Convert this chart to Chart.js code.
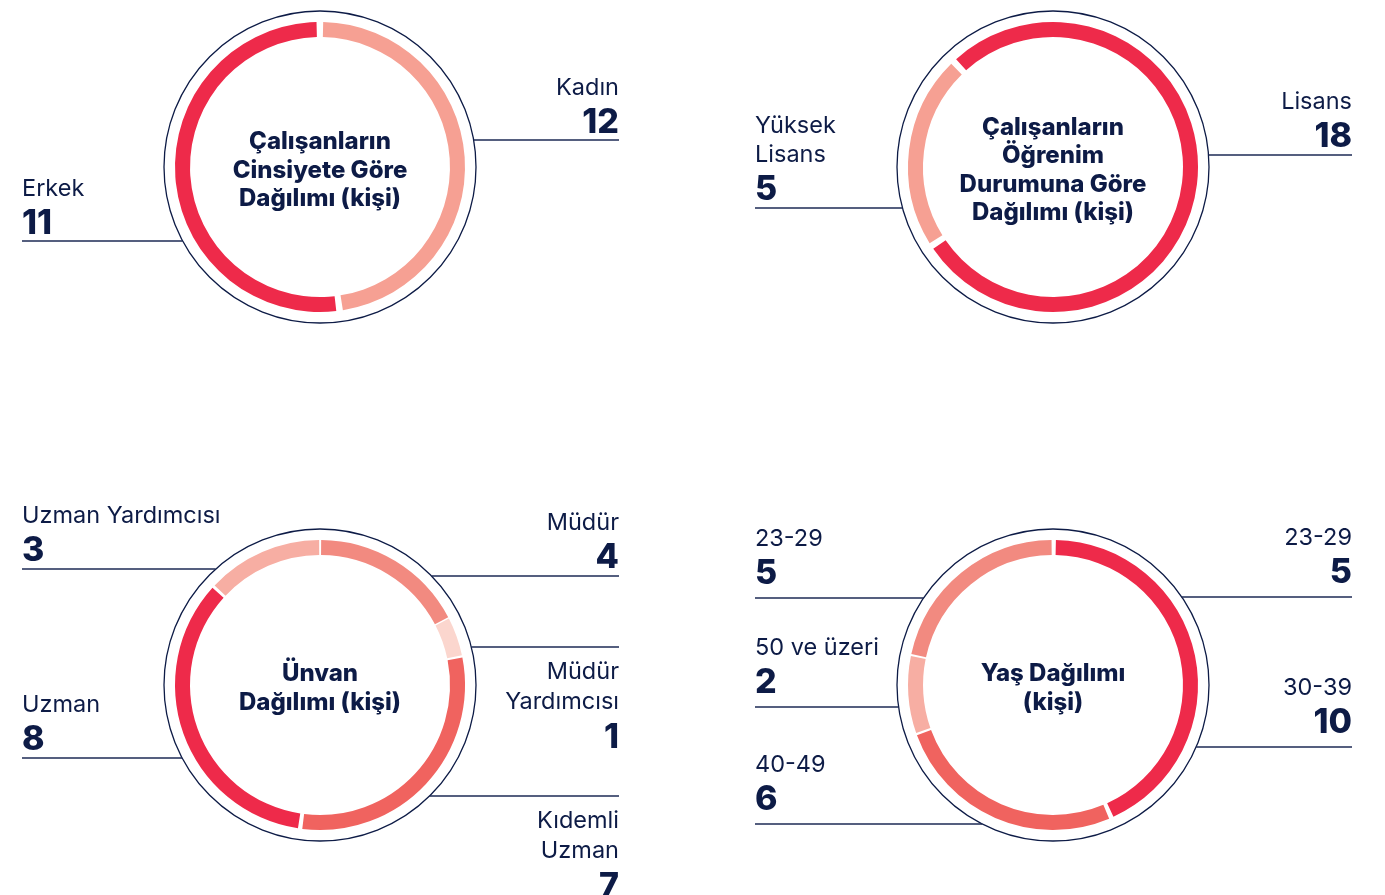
<!DOCTYPE html>
<html lang="tr">
<head>
    <meta charset="UTF-8">
    <title>Çalışan Dağılımları</title>
    <script src="https://cdn.jsdelivr.net/npm/chart.js"></script>
    <style>
        body {
            margin: 0;
            background-color: #ffffff;
        }
        .page {
            position: relative;
            width: 1385px;
            height: 895px;
            overflow: hidden;
        }
        .page canvas {
            position: absolute;
        }
    </style>
</head>
<body>
    <div class="page">
        <canvas id="gender" width="652" height="447" style="left:0;top:0"></canvas>
        <canvas id="education" width="652" height="447" style="left:733px;top:0"></canvas>
        <canvas id="position" width="652" height="447" style="left:0;top:448px"></canvas>
        <canvas id="age" width="652" height="447" style="left:733px;top:448px"></canvas>
    </div>

    <script>
        // Cinsiyet
        const genderLabels = ['Erkek', 'Kadın'];
        const genderValues = [11, 12];
        const genderTitle = ['Çalışanların', 'Cinsiyete Göre', 'Dağılımı (kişi)'];

        // Öğrenim durumu
        const educationLabels = ['Lisans', ['Yüksek', 'Lisans']];
        const educationValues = [18, 5];
        const educationTitle = ['Çalışanların', 'Öğrenim', 'Durumuna Göre', 'Dağılımı (kişi)'];

        // Ünvan
        const positionLabels = ['Müdür', ['Müdür', 'Yardımcısı'], ['Kıdemli', 'Uzman'], 'Uzman', 'Uzman Yardımcısı'];
        const positionValues = [4, 1, 7, 8, 3];
        const positionTitle = ['Ünvan', 'Dağılımı (kişi)'];

        // Yaş
        const ageLabels = ['30-39', '40-49', '50 ve üzeri', '23-29'];
        const ageValues = [10, 6, 2, 5];
        const ageTitle = ['Yaş Dağılımı', '(kişi)'];

        const NAVY = '#0d1b46';
        const RED = '#ee2a4a';
        const CORAL = '#f0635f';
        const SALMON = '#f28a80';
        const PEACH = '#f6a093';
        const LIGHT = '#f7aea3';
        const PALE = '#fbd6ce';

        const LEFT_X = 22;
        const RIGHT_X = 619;

        // label + number + horizontal line that ends on the outer circle
        const calloutPlugin = {
            id: 'callouts',
            afterDraw(chart, args, opts) {
                const ctx = chart.ctx;
                const arc = chart.getDatasetMeta(0).data[0];
                const cx = arc.x, cy = arc.y;
                const ringR = arc.outerRadius + 13;
                const labels = chart.data.labels;
                const values = chart.data.datasets[0].data;
                const gap = opts.gap || 8;

                ctx.save();
                ctx.beginPath();
                ctx.arc(cx, cy, ringR, 0, Math.PI * 2);
                ctx.strokeStyle = NAVY;
                ctx.lineWidth = 1.3;
                ctx.stroke();

                // center title
                ctx.fillStyle = NAVY;
                ctx.font = '800 24px Inter';
                ctx.textAlign = 'center';
                ctx.textBaseline = 'middle';
                const t = opts.title;
                t.forEach((line, k) => {
                    ctx.fillText(line, cx, cy + 3.5 + (k - (t.length - 1) / 2) * 28.5);
                });

                ctx.textBaseline = 'alphabetic';
                opts.items.forEach(c => {
                    const left = c.side === 'left';
                    const xText = left ? LEFT_X : RIGHT_X;
                    const dy = c.y - cy;
                    const dx = Math.sqrt(Math.max(ringR * ringR - dy * dy, 0));
                    ctx.beginPath();
                    ctx.moveTo(xText, c.y);
                    ctx.lineTo(left ? cx - dx : cx + dx, c.y);
                    ctx.strokeStyle = '#1c2a55';
                    ctx.lineWidth = 1.4;
                    ctx.stroke();

                    const lines = [].concat(labels[c.i]);
                    ctx.textAlign = left ? 'left' : 'right';
                    let numBase;
                    ctx.font = '400 23.5px Inter';
                    if (!c.below) {
                        numBase = c.y - gap;
                        const lastBase = numBase - 38;
                        lines.forEach((l, k) => {
                            ctx.fillText(l, xText, lastBase - (lines.length - 1 - k) * 29.5);
                        });
                    } else {
                        const first = c.y + 32;
                        lines.forEach((l, k) => {
                            ctx.fillText(l, xText, first + k * 29.5);
                        });
                        numBase = first + (lines.length - 1) * 29.5 + 39;
                    }
                    ctx.font = '800 34px Inter';
                    ctx.fillText(String(values[c.i]), xText, numBase);
                });
                ctx.restore();
            }
        };

        function makeDoughnut(id, labels, values, colors, rotation, title, items, centerY, gap) {
            const ctx = document.getElementById(id).getContext('2d');
            return new Chart(ctx, {
                type: 'doughnut',
                data: {
                    labels: labels,
                    datasets: [{
                        data: values,
                        backgroundColor: colors,
                        borderWidth: 0,
                    }],
                },
                options: {
                    responsive: false,
                    animation: false,
                    cutout: '89.5%',
                    spacing: 4,
                    rotation: rotation,
                    layout: { padding: { left: 175, top: centerY - 145, right: 187, bottom: 447 - centerY - 145 } },
                    plugins: {
                        legend: { display: false },
                        tooltip: { enabled: false },
                        callouts: { title: title, items: items, gap: gap },
                    },
                },
                plugins: [calloutPlugin],
            });
        }

        makeDoughnut('gender', genderLabels, genderValues, [PEACH, RED], 0, genderTitle, [
            { i: 1, side: 'right', y: 140 },
            { i: 0, side: 'left', y: 241 },
        ], 167, 7);

        makeDoughnut('education', educationLabels, educationValues, [RED, PEACH], -44, educationTitle, [
            { i: 0, side: 'right', y: 155 },
            { i: 1, side: 'left', y: 208 },
        ], 167, 8);

        makeDoughnut('position', positionLabels, positionValues, [SALMON, PALE, CORAL, RED, LIGHT], 0, positionTitle, [
            { i: 4, side: 'left', y: 121 },
            { i: 0, side: 'right', y: 128 },
            { i: 1, side: 'right', y: 199, below: true },
            { i: 3, side: 'left', y: 310 },
            { i: 2, side: 'right', y: 348, below: true },
        ], 237, 8);

        makeDoughnut('age', ageLabels, ageValues, [RED, CORAL, LIGHT, SALMON], 0, ageTitle, [
            { i: 3, side: 'left', y: 150 },
            { i: 2, side: 'left', y: 259 },
            { i: 1, side: 'left', y: 376 },
            { i: 3, side: 'right', y: 149 },
            { i: 0, side: 'right', y: 299 },
        ], 237, 14);
    </script>
</body>
</html>
